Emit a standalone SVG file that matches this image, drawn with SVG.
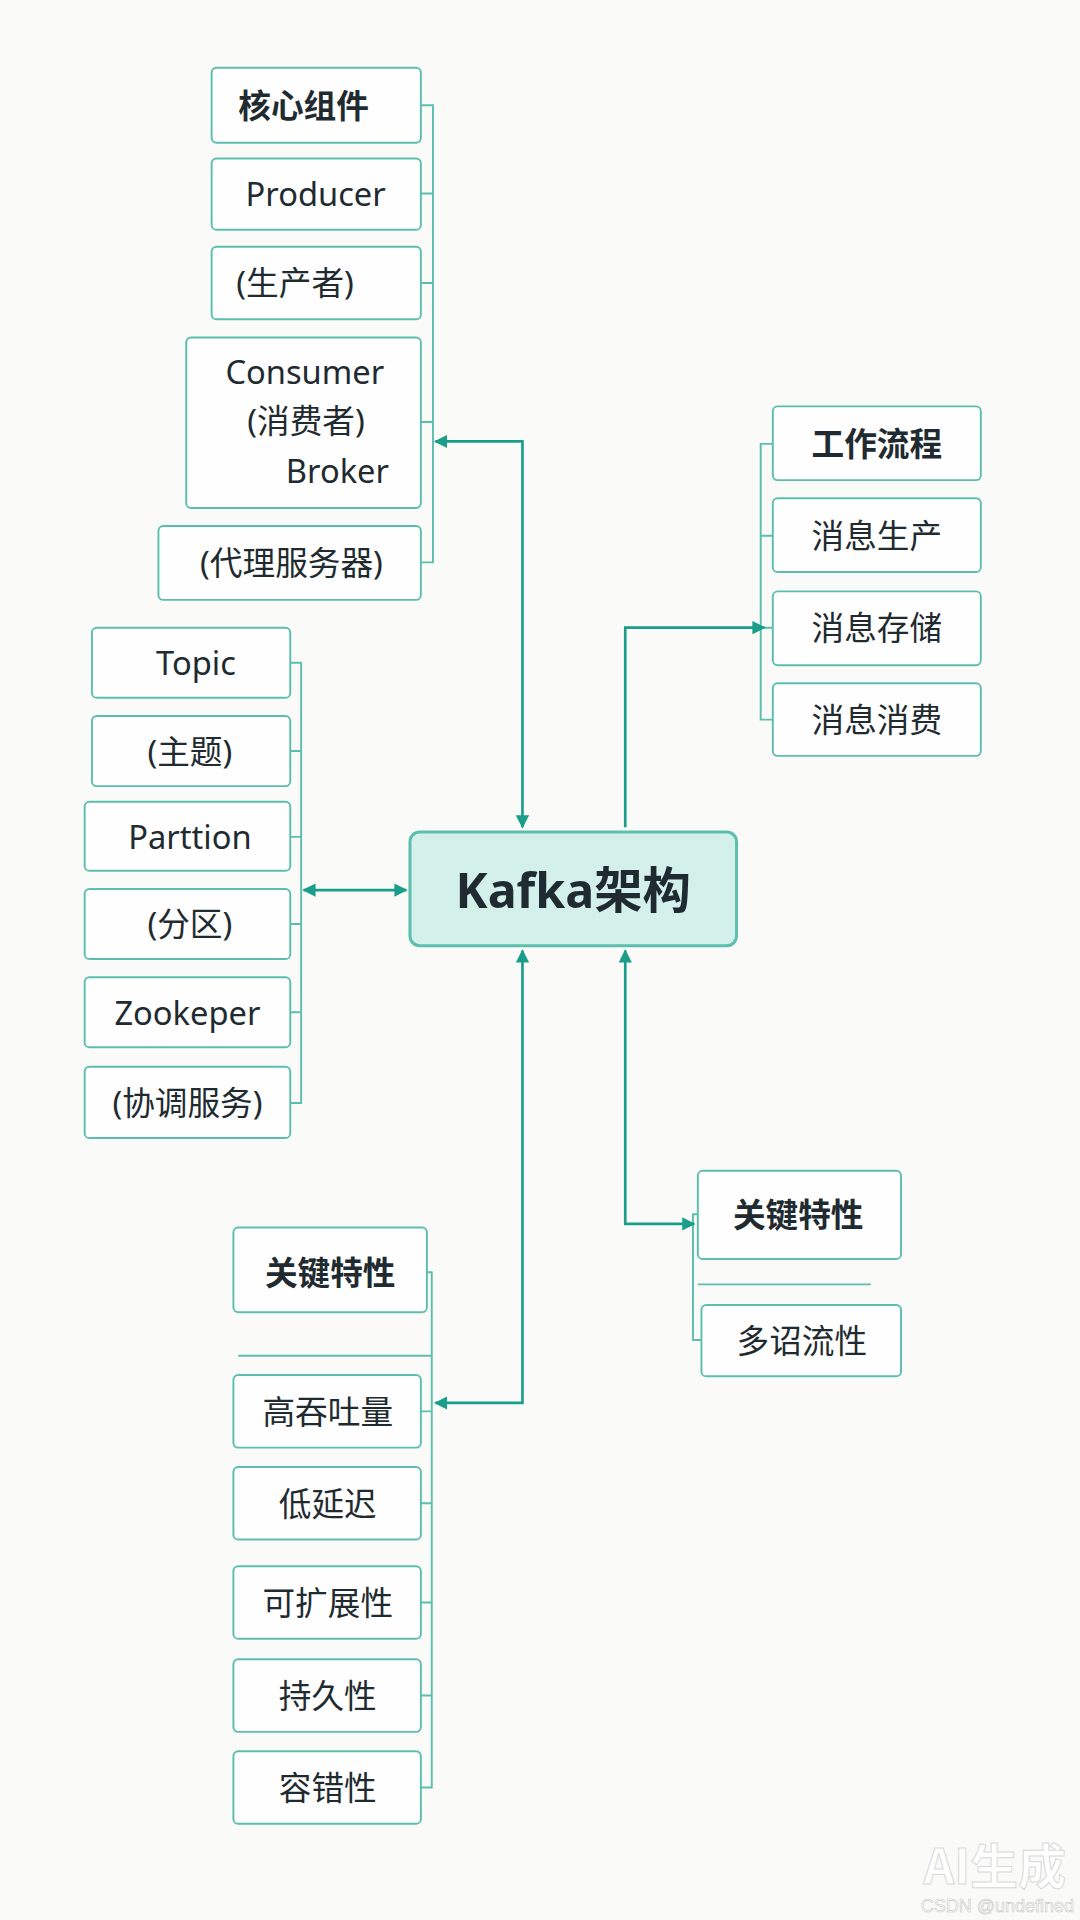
<svg xmlns="http://www.w3.org/2000/svg" width="1080" height="1920" viewBox="0 0 1080 1920">
<defs>
<style>
.b{fill:#fdfefd;stroke:#5cbfae;stroke-width:1.6}
.t{font-family:"Noto Sans","Noto Sans CJK SC",sans-serif;font-size:27px;fill:#1f2b30;text-anchor:middle;dominant-baseline:central}
.h{font-weight:bold}
.k{font-size:40px}
.c{fill:none;stroke:#1a9e8a;stroke-width:2.2}
.l{fill:none;stroke:#5cbfae;stroke-width:1.6}
</style>
<marker id="a" viewBox="0 0 10 10" refX="9" refY="5" markerWidth="5" markerHeight="5" orient="auto-start-reverse"><path d="M0,0L10,5L0,10z" fill="#1a9e8a"/></marker>
</defs>
<rect width="1080" height="1920" fill="#fafbf8"/>
<g transform="scale(1.2094)">
<g id="connectors">
<path class="l" d="M348,87H358V465H348M348,160H358M348,234H358M348,349H358M348,465H358"/>
<path class="l" d="M240,548H249V912H240M240,621H249M240,692H249M240,764H249M240,837H249"/>
<path class="l" d="M639,367H629V595H639M639,443H629M639,519H629"/>
<path class="l" d="M577,1004H573V1108H580M577,1062H720"/>
<path class="l" d="M353,1052H357V1478H348M197,1121H357M348,1167H357M348,1243H357M348,1325H357M348,1402H357"/>
<path class="c" d="M360,365H432V684" marker-start="url(#a)" marker-end="url(#a)"/>
<path class="c" d="M251,736H336" marker-start="url(#a)" marker-end="url(#a)"/>
<path class="c" d="M517,684V519H632" marker-end="url(#a)"/>
<path class="c" d="M517,786V1012H574" marker-start="url(#a)" marker-end="url(#a)"/>
<path class="c" d="M432,786V1160H360" marker-start="url(#a)" marker-end="url(#a)"/>
</g>
<g id="center"><rect x="339" y="688" width="270" height="94" rx="8" fill="#d4f0ea" stroke="#5cbfae" stroke-width="2.5"/><text class="t h k" x="474" y="735">Kafka架构</text></g>
<g id="core">
<rect class="b" x="175" y="56" width="173" height="62" rx="4"/><text class="t h" x="251" y="87">核心组件</text>
<rect class="b" x="175" y="131" width="173" height="59" rx="4"/><text class="t" x="261" y="160">Producer</text>
<rect class="b" x="175" y="204" width="173" height="60" rx="4"/><text class="t" x="244" y="234">(生产者)</text>
<rect class="b" x="154" y="279" width="194" height="141" rx="4"/><text class="t" x="252" y="307">Consumer</text><text class="t" x="253" y="348">(消费者)</text><text class="t" x="279" y="389">Broker</text>
<rect class="b" x="131" y="435" width="217" height="61" rx="4"/><text class="t" x="241" y="465">(代理服务器)</text>
</g>
<g id="left">
<rect class="b" x="76" y="519" width="164" height="58" rx="4"/><text class="t" x="162" y="548">Topic</text>
<rect class="b" x="76" y="592" width="164" height="58" rx="4"/><text class="t" x="157" y="621">(主题)</text>
<rect class="b" x="70" y="663" width="170" height="57" rx="4"/><text class="t" x="157" y="692">Parttion</text>
<rect class="b" x="70" y="735" width="170" height="58" rx="4"/><text class="t" x="157" y="764">(分区)</text>
<rect class="b" x="70" y="808" width="170" height="58" rx="4"/><text class="t" x="155" y="837">Zookeper</text>
<rect class="b" x="70" y="882" width="170" height="59" rx="4"/><text class="t" x="155" y="912">(协调服务)</text>
</g>
<g id="flow">
<rect class="b" x="639" y="336" width="172" height="61" rx="4"/><text class="t h" x="725" y="367">工作流程</text>
<rect class="b" x="639" y="412" width="172" height="61" rx="4"/><text class="t" x="725" y="443">消息生产</text>
<rect class="b" x="639" y="489" width="172" height="61" rx="4"/><text class="t" x="725" y="519">消息存储</text>
<rect class="b" x="639" y="565" width="172" height="60" rx="4"/><text class="t" x="725" y="595">消息消费</text>
</g>
<g id="features-right">
<rect class="b" x="577" y="968" width="168" height="73" rx="4"/><text class="t h" x="660" y="1004">关键特性</text>
<rect class="b" x="580" y="1079" width="165" height="59" rx="4"/><text class="t" x="663" y="1108">多诏流性</text>
</g>
<g id="features-left">
<rect class="b" x="193" y="1015" width="160" height="70" rx="4"/><text class="t h" x="273" y="1052">关键特性</text>
<rect class="b" x="193" y="1137" width="155" height="60" rx="4"/><text class="t" x="271" y="1167">高吞吐量</text>
<rect class="b" x="193" y="1213" width="155" height="60" rx="4"/><text class="t" x="271" y="1243">低延迟</text>
<rect class="b" x="193" y="1295" width="155" height="60" rx="4"/><text class="t" x="271" y="1325">可扩展性</text>
<rect class="b" x="193" y="1372" width="155" height="60" rx="4"/><text class="t" x="271" y="1402">持久性</text>
<rect class="b" x="193" y="1448" width="155" height="60" rx="4"/><text class="t" x="271" y="1478">容错性</text>
</g>
</g>
<text x="1066" y="1884" font-family="Noto Sans CJK SC,sans-serif" font-size="48" font-weight="bold" fill="#ffffff" stroke="#d8d8d8" stroke-width="1" text-anchor="end">AI生成</text>
<text x="1074" y="1912" font-family="Liberation Sans,sans-serif" font-size="18" fill="#ffffff" stroke="#c8c8c8" stroke-width="0.6" text-anchor="end">CSDN @undefined</text>
</svg>
